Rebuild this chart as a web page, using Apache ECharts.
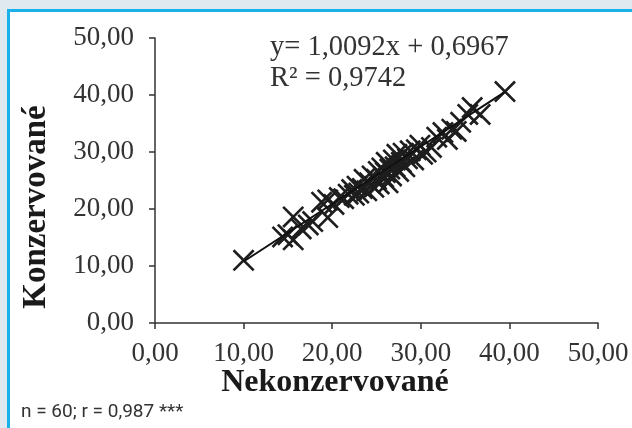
<!DOCTYPE html>
<html>
<head>
<meta charset="utf-8">
<script src="https://cdn.jsdelivr.net/npm/echarts@6/dist/echarts.min.js"></script>
<style>
html,body{margin:0;padding:0;width:632px;height:428px;overflow:hidden;background:#dfe9ef;}
#frame{position:absolute;left:7px;top:9px;width:625px;height:419px;background:#fff;border-left:3px solid #18b1ea;border-top:3px solid #18b1ea;box-sizing:border-box;}
#chart{position:absolute;left:0;top:0;width:632px;height:428px;}
</style>
</head>
<body>
<div id="frame"></div>
<div id="chart"></div>
<script>
// Data
var nekonzervovane = [10.0,14.4,15.0,15.6,15.6,16.5,17.3,17.8,19.5,18.8,19.5,20.2,20.8,21.3,21.8,22.2,22.5,22.8,23.0,23.4,23.6,23.9,24.2,24.5,24.7,25.0,25.2,25.3,25.6,25.8,26.0,26.1,26.3,26.5,26.7,26.9,27.1,27.3,27.5,27.8,28.0,28.2,28.5,28.8,29.2,29.5,29.9,30.2,30.6,31.2,31.8,32.5,33.0,33.5,34.0,34.5,35.3,35.8,36.7,39.5];
var konzervovane = [11.0,15.1,15.5,18.6,14.6,16.5,17.2,17.8,18.5,21.2,21.6,20.8,22.0,21.8,22.6,23.4,22.4,24.0,22.8,23.6,25.2,23.2,24.6,25.8,23.8,25.2,26.6,24.4,27.2,25.6,26.4,28.2,24.6,27.0,25.8,28.6,27.4,29.6,26.6,28.2,29.8,27.4,28.8,30.2,28.6,30.4,31.2,29.6,30.0,30.8,32.6,33.4,32.2,34.0,33.6,35.2,36.6,37.8,36.6,40.6];
var axisTicks = [0,10,20,30,40,50];
var trendSlope = 1.0092, trendIntercept = 0.6967, trendRange = [10.0, 39.5];
var equationText = 'y= 1,0092x + 0,6967';
var r2Text = 'R² = 0,9742';
var footText = 'n = 60; r = 0,987 ***';

var points = nekonzervovane.map(function(x,i){return [x, konzervovane[i]];});
var trend = trendRange.map(function(x){return [x, trendSlope*x + trendIntercept];});
function fmt(v){return v.toFixed(2).replace('.', ',');}

var xSym = 'path://M0,1.7 L1.7,0 L20,18.3 L18.3,20 Z M18.3,0 L20,1.7 L1.7,20 L0,18.3 Z';
var serif = '"Liberation Serif","DejaVu Serif",serif';

var chart = echarts.init(document.getElementById('chart'), null, {renderer:'canvas'});
chart.setOption({
  backgroundColor: 'transparent',
  animation: false,
  grid: {left:155, right:34, top:38, bottom:105},
  xAxis: {
    type:'value', min:axisTicks[0], max:axisTicks[axisTicks.length-1], interval:10,
    axisLine:{show:true, lineStyle:{color:'#333', width:1.5}},
    axisTick:{show:true, length:6, lineStyle:{color:'#333', width:1.5}},
    splitLine:{show:false},
    axisLabel:{margin:17, color:'#333', fontFamily:serif, fontSize:27, formatter:fmt}
  },
  yAxis: {
    type:'value', min:axisTicks[0], max:axisTicks[axisTicks.length-1], interval:10,
    axisLine:{show:true, lineStyle:{color:'#333', width:1.5}},
    axisTick:{show:true, length:6, lineStyle:{color:'#333', width:1.5}},
    splitLine:{show:false},
    axisLabel:{margin:21, color:'#333', fontFamily:serif, fontSize:27, formatter:fmt}
  },
  series: [
    {type:'scatter', data:points, symbol:xSym, symbolSize:22, itemStyle:{color:'#1e1e1e', opacity:1}, z:2},
    {type:'line', data:trend, symbol:'none', lineStyle:{color:'#111', width:2}, z:3}
  ],
  graphic: [
    {type:'text', x:335, y:383, style:{text:'Nekonzervované', fill:'#1a1a1a', font:'bold 32px '+serif, textAlign:'center', textVerticalAlign:'middle'}},
    {type:'text', x:36, y:207, rotation:Math.PI/2, style:{text:'Konzervované', fill:'#1a1a1a', font:'bold 33px '+serif, textAlign:'center', textVerticalAlign:'middle'}},
    {type:'text', x:270, y:48, style:{text:equationText, fill:'#333', font:'28.5px '+serif, textVerticalAlign:'middle'}},
    {type:'text', x:270, y:79, style:{text:r2Text, fill:'#333', font:'28.5px '+serif, textVerticalAlign:'middle'}},
    {type:'text', x:21, y:412, style:{text:footText, fill:'#333', font:'19px Roboto,"Liberation Sans",sans-serif', textVerticalAlign:'middle'}}
  ]
});
</script>
</body>
</html>
